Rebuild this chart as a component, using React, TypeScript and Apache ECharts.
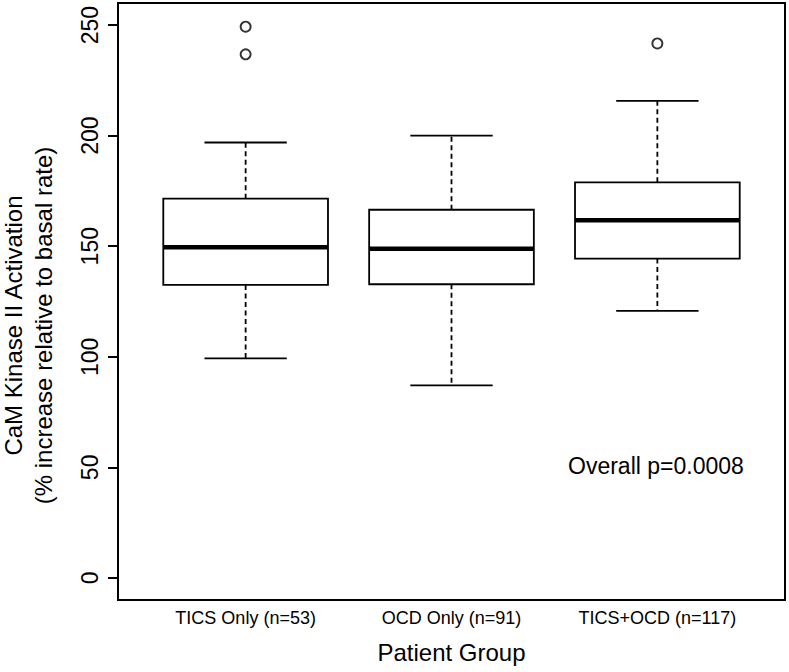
import React, { useEffect, useRef } from "react";
import * as echarts from "echarts";

const groups = ["TICS Only (n=53)", "OCD Only (n=91)", "TICS+OCD (n=117)"];
const groupPos = [1, 2, 3];
const lowWhisker = [99.3, 87.1, 120.8];
const q1 = [132.5, 132.8, 144.4];
const median = [149.5, 148.9, 161.7];
const q3 = [171.5, 166.5, 178.9];
const highWhisker = [196.9, 200.0, 215.7];
const outliers: [number, number][] = [
  [1, 249.3],
  [1, 236.8],
  [3, 241.7],
];
const yTicks = [0, 50, 100, 150, 200, 250];
const yTitle = "CaM Kinase II Activation\n(% increase relative to basal rate)";
const xTitle = "Patient Group";
const note = "Overall p=0.0008";

const FONT = "Liberation Sans, Arial, Helvetica, sans-serif";

export default function App() {
  const ref = useRef<HTMLDivElement>(null);
  useEffect(() => {
    if (!ref.current) return;
    const chart = echarts.init(ref.current, undefined, { renderer: "svg" });
    const boxData = groupPos.map((p, i) => [p, lowWhisker[i], q1[i], median[i], q3[i], highWhisker[i]]);
    const lw = 1.8;
    chart.setOption({
      animation: false,
      backgroundColor: "#fff",
      textStyle: { fontFamily: FONT },
      grid: {
        left: 118,
        right: 4,
        top: 3,
        bottom: 72,
        containLabel: false,
        outerBoundsMode: "none",
        show: true,
        borderColor: "#000",
        borderWidth: 2,
        backgroundColor: "transparent",
      },
      xAxis: {
        type: "value",
        min: 0.38,
        max: 3.62,
        axisLine: { show: false },
        axisTick: { show: false },
        splitLine: { show: false },
        axisLabel: {
          customValues: groupPos,
          formatter: (v: number) => groups[Math.round(v) - 1] ?? "",
          fontSize: 18,
          color: "#000",
          fontFamily: FONT,
          margin: 9,
        },
        name: xTitle,
        nameLocation: "middle",
        nameGap: 40,
        nameTextStyle: { fontSize: 24, color: "#000", fontFamily: FONT },
      },
      yAxis: {
        type: "value",
        min: -10,
        max: 260,
        axisLine: { show: false },
        splitLine: { show: false },
        axisTick: {
          show: true,
          customValues: yTicks,
          length: 10,
          lineStyle: { color: "#000", width: 2 },
        },
        axisLabel: {
          customValues: yTicks,
          rotate: 90,
          fontSize: 23,
          color: "#000",
          fontFamily: FONT,
          margin: 17,
        },
        name: yTitle,
        nameLocation: "middle",
        nameRotate: 90,
        nameGap: 60,
        nameTextStyle: {
          fontSize: 24,
          lineHeight: 30,
          color: "#000",
          fontFamily: FONT,
          align: "center",
          padding: [0, 48, 0, 0],
        },
      },
      graphic: [
        {
          type: "text",
          left: 568,
          top: 454,
          style: { text: note, fontSize: 23, fill: "#000", fontFamily: FONT },
        },
      ],
      series: [
        {
          type: "custom",
          data: boxData,
          encode: { x: 0, y: [1, 2, 3, 4, 5] },
          renderItem: (params: any, api: any) => {
            const x = api.value(0);
            const half = api.size([0.8, 0])[0] / 2;
            const capHalf = half / 2;
            const pLow = api.coord([x, api.value(1)]);
            const pQ1 = api.coord([x, api.value(2)]);
            const pMed = api.coord([x, api.value(3)]);
            const pQ3 = api.coord([x, api.value(4)]);
            const pHigh = api.coord([x, api.value(5)]);
            const cx = pMed[0];
            const solid = { stroke: "#000", lineWidth: lw };
            const dashed = { stroke: "#000", lineWidth: lw, lineDash: [5, 3.5] };
            return {
              type: "group",
              children: [
                { type: "line", shape: { x1: cx, y1: pQ3[1], x2: cx, y2: pHigh[1] }, style: dashed },
                { type: "line", shape: { x1: cx, y1: pQ1[1], x2: cx, y2: pLow[1] }, style: dashed },
                { type: "line", shape: { x1: cx - capHalf, y1: pHigh[1], x2: cx + capHalf, y2: pHigh[1] }, style: solid },
                { type: "line", shape: { x1: cx - capHalf, y1: pLow[1], x2: cx + capHalf, y2: pLow[1] }, style: solid },
                {
                  type: "rect",
                  shape: { x: cx - half, y: pQ3[1], width: half * 2, height: pQ1[1] - pQ3[1] },
                  style: { fill: "#fff", stroke: "#000", lineWidth: lw },
                },
                { type: "line", shape: { x1: cx - half, y1: pMed[1], x2: cx + half, y2: pMed[1] }, style: { stroke: "#000", lineWidth: 4.5 } },
              ],
            };
          },
        },
        {
          type: "scatter",
          data: outliers,
          symbol: "circle",
          symbolSize: 10,
          itemStyle: { color: "#fff", borderColor: "#000", borderWidth: 1.9 },
        },
      ],
    });
    return () => chart.dispose();
  }, []);
  return (
    <div
      ref={ref}
      style={{ position: "fixed", left: 0, top: 0, width: 789, height: 672, background: "#fff" }}
    />
  );
}
